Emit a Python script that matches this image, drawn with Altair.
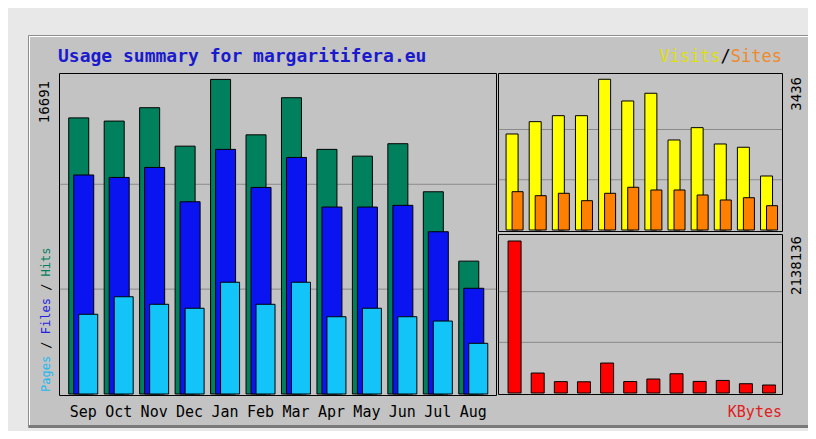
import altair as alt
import pandas as pd

# ---------------- data ----------------
months = ["Sep", "Oct", "Nov", "Dec", "Jan", "Feb", "Mar", "Apr", "May", "Jun", "Jul", "Aug"]
hits   = [14650, 14480, 15190, 13150, 16691, 13750, 15720, 12980, 12620, 13280, 10730, 7050]
files  = [11620, 11490, 12020, 10200, 12980, 10960, 12550, 9920, 9920, 10010, 8610, 5610]
pages  = [4230, 5160, 4760, 4550, 5930, 4760, 5930, 4100, 4550, 4100, 3870, 2690]
visits = [2189, 2470, 2606, 2606, 3436, 2941, 3117, 2052, 2333, 1961, 1886, 1231]
sites  = [873, 782, 837, 668, 837, 974, 912, 912, 798, 684, 736, 554]
kbytes = [2138136, 280780, 160000, 158000, 421170, 161000, 196550, 270950, 163000, 176890, 130560, 112310]

title_text = "Usage summary for margaritifera.eu"
hits_max, visits_max, kbytes_max = max(hits), max(visits), max(kbytes)

df = pd.DataFrame({"month": months, "hits": hits, "files": files, "pages": pages,
                   "visits": visits, "sites": sites, "kbytes": kbytes})
one = pd.DataFrame({"k": [0]})

MONO = "DejaVu Sans Mono"
CW = 0.602  # advance width of one monospace char, in em
PANEL = "#c3c3c3"

# ---------------- scales (chart coords = page coords - 8) ----------------
xl = alt.Scale(type="band", domain=months, range=[57.5, 483], paddingInner=0, paddingOuter=0)
xr = alt.Scale(type="band", domain=months, range=[495, 772.6], paddingInner=0, paddingOuter=0)
yl = alt.Scale(domain=[0, hits_max / 0.98], range=[386, 65], nice=False, zero=True)
yt = alt.Scale(domain=[0, visits_max / 0.954], range=[222, 64], nice=False, zero=True)
yb = alt.Scale(domain=[0, kbytes_max / 0.962], range=[385, 227], nice=False, zero=True)


def box(x, x2, y, y2, **kw):
    return alt.Chart(one).mark_rect(**kw).encode(
        x=alt.value(x), x2=alt.value(x2), y=alt.value(y), y2=alt.value(y2))


def hline(x, x2, y, color, w=1):
    return alt.Chart(one).mark_rule(color=color, strokeWidth=w).encode(
        x=alt.value(x), x2=alt.value(x2), y=alt.value(y))


def vline(x, y, y2, color, w=1):
    return alt.Chart(one).mark_rule(color=color, strokeWidth=w).encode(
        x=alt.value(x), y=alt.value(y), y2=alt.value(y2))


def label(txt, x, y, color, size, align="left", baseline="alphabetic", angle=0,
          weight="normal", chars=0):
    kw = dict(text=txt, color=color, font=MONO, fontSize=size, align=align,
              baseline=baseline, fontWeight=weight)
    if angle:
        kw["angle"] = angle
    if chars:
        kw["dx"] = chars * CW * size
    return alt.Chart(one).mark_text(**kw).encode(x=alt.value(x), y=alt.value(y))


def grid(field_vals, scale, x, x2):
    g = pd.DataFrame({"g": field_vals})
    return alt.Chart(g).mark_rule(color="#8a8a8a", strokeWidth=1).encode(
        y=alt.Y("g:Q", scale=scale, axis=None), x=alt.value(x), x2=alt.value(x2))


def bars(field, xs, ys, color, width, offset):
    return alt.Chart(df).mark_bar(color=color, stroke="#000000", strokeWidth=1,
                                  width=width, xOffset=offset).encode(
        x=alt.X("month:N", scale=xs, axis=None, sort=months),
        y=alt.Y(f"{field}:Q", scale=ys, axis=None))


layers = [
    # outer bevelled panel
    box(20.5, 802.5, 27.5, 419.5, fill=PANEL, stroke="#8c8c8c", strokeWidth=1),
    hline(21, 801, 28.5, "#ffffff"),
    vline(21.5, 28, 418, "#ffffff"),
    hline(21, 803, 418.5, "#7a7a7a", 3),
    vline(801.5, 28, 420, "#7a7a7a", 3),
    # plot areas (fill)
    box(51.5, 488.5, 65.5, 387.5, fill=PANEL),
    box(490.5, 774.5, 65.5, 223.5, fill=PANEL),
    box(490.5, 774.5, 226.5, 386.5, fill=PANEL),
    # grid lines
    grid([hits_max / 3, 2 * hits_max / 3], yl, 52, 488),
    grid([visits_max / 3, 2 * visits_max / 3], yt, 491, 774),
    grid([kbytes_max / 3, 2 * kbytes_max / 3], yb, 491, 774),
    # left: hits / files / pages
    bars("hits", xl, yl, "#00805c", 20, -4.5),
    bars("files", xl, yl, "#0a14f0", 20, 0.5),
    bars("pages", xl, yl, "#12c4f8", 19, 5),
    # right top: visits / sites
    bars("visits", xr, yt, "#ffff00", 12, -2.5),
    bars("sites", xr, yt, "#ff8000", 11, 3),
    # right bottom: kbytes
    bars("kbytes", xr, yb, "#ff0000", 13, 0),
    # plot borders
    box(51.5, 488.5, 65.5, 387.5, fill="transparent", stroke="#000000", strokeWidth=1),
    box(490.5, 774.5, 65.5, 223.5, fill="transparent", stroke="#000000", strokeWidth=1),
    box(490.5, 774.5, 226.5, 386.5, fill="transparent", stroke="#000000", strokeWidth=1),
    # month labels
    alt.Chart(df).mark_text(font=MONO, fontSize=15, color="#000000", baseline="alphabetic").encode(
        x=alt.X("month:N", scale=xl, axis=None, sort=months), y=alt.value(408.5), text="month:N"),
    # texts
    label(title_text, 50, 54, "#1a1acd", 18, weight="bold"),
    label("Sites", 774, 54, "#ee8a2a", 17, align="right"),
    label("/", 774, 54, "#000000", 17, align="right", chars=-5),
    label("Visits", 774, 54, "#dede10", 17, align="right", chars=-6),
    label("KBytes", 774, 408.5, "#e02020", 15, align="right"),
    label("Pages", 38, 384, "#20b8f0", 12, baseline="middle", angle=270),
    label("/", 38, 384, "#000000", 12, baseline="middle", angle=270, chars=6),
    label("Files", 38, 384, "#2020e0", 12, baseline="middle", angle=270, chars=8),
    label("/", 38, 384, "#000000", 12, baseline="middle", angle=270, chars=14),
    label("Hits", 38, 384, "#00805c", 12, baseline="middle", angle=270, chars=16),
    label(str(hits_max), 37, 73, "#000000", 14, align="right", baseline="middle", angle=270),
    label(str(visits_max), 789, 69, "#000000", 14, align="right", baseline="middle", angle=270),
    label(str(kbytes_max), 789, 228, "#000000", 14, align="right", baseline="middle", angle=270),
]

chart = alt.layer(*layers).resolve_scale(x="independent", y="independent").properties(
    width=800, height=423, autosize=alt.AutoSizeParams(type="none"), padding=0,
    background="#e8e8e8"
).configure_view(strokeWidth=0)

chart.save("out.html", embed_options={"renderer": "svg", "actions": False})
